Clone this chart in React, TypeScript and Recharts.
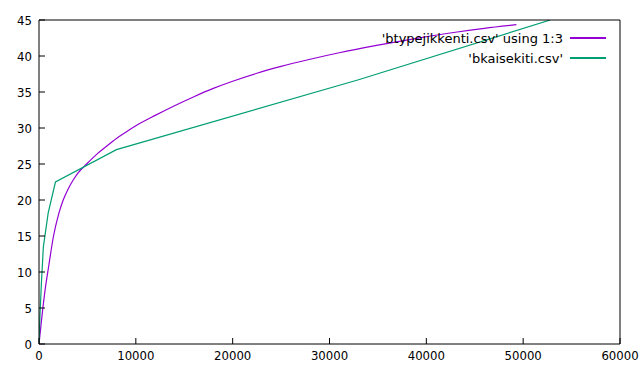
import { LineChart, Line, XAxis, YAxis } from "recharts";

// axis ticks
const xTicks = [0, 10000, 20000, 30000, 40000, 50000, 60000];
const yTicks = [0, 5, 10, 15, 20, 25, 30, 35, 40, 45];

// 'btypejikkenti.csv' using 1:3
const jikkentiX = [0, 300, 600, 1000, 1500, 2000, 2500, 3000, 3500, 4000, 5000, 6000, 7000, 8000, 9000, 10000, 12000, 14000, 16000, 18000, 20000, 22500, 25000, 28000, 31000, 35000, 39000, 43000, 46000, 49300];
const jikkentiY = [0, 3.8, 7.2, 10.8, 15, 17.9, 20, 21.5, 22.7, 23.7, 25.1, 26.4, 27.5, 28.55, 29.45, 30.3, 31.75, 33.1, 34.35, 35.5, 36.5, 37.6, 38.55, 39.55, 40.45, 41.5, 42.45, 43.3, 43.85, 44.35];

// 'bkaisekiti.csv'
const kaisekiX = [0, 100, 250, 450, 950, 1700, 8000, 33000, 52800];
const kaisekiY = [0, 4, 8.5, 13.5, 18.2, 22.5, 27, 36.7, 45];

const seriesNames = ["'btypejikkenti.csv' using 1:3", "'bkaisekiti.csv'"];
const seriesColors = ["#9400d3", "#009e73"];

const jikkentiData = jikkentiX.map((x, i) => ({ x, y: jikkentiY[i] }));
const kaisekiData = kaisekiX.map((x, i) => ({ x, y: kaisekiY[i] }));

const tickStyle = { fill: "#000", fontSize: 13, fontFamily: "'DejaVu Sans Condensed', 'DejaVu Sans', sans-serif" };
const frame = { stroke: "#000", strokeWidth: 1 };

export default function App() {
  return (
    <div style={{ position: "absolute", left: 0, top: 0, width: 640, height: 384, background: "#fff" }}>
      <LineChart width={640} height={384} margin={{ top: 19, right: 19, bottom: 0, left: 0 }}>
        <XAxis
          dataKey="x"
          type="number"
          domain={[0, 60000]}
          ticks={xTicks}
          allowDataOverflow
          height={40}
          tickSize={-6}
          tickMargin={13}
          tick={tickStyle}
          axisLine={frame}
          tickLine={frame}
          interval={0}
        />
        <XAxis
          xAxisId="top"
          orientation="top"
          type="number"
          domain={[0, 60000]}
          ticks={xTicks}
          height={1}
          tickSize={-6}
          tick={false}
          axisLine={frame}
          tickLine={frame}
          interval={0}
        />
        <YAxis
          type="number"
          domain={[0, 45]}
          ticks={yTicks}
          allowDataOverflow
          width={39}
          tickSize={-6}
          tickMargin={13}
          tick={tickStyle}
          axisLine={frame}
          tickLine={frame}
          interval={0}
        />
        <YAxis
          yAxisId="right"
          orientation="right"
          type="number"
          domain={[0, 45]}
          ticks={yTicks}
          width={1}
          tickSize={-6}
          tick={false}
          axisLine={frame}
          tickLine={frame}
          interval={0}
        />
        <Line
          data={jikkentiData}
          dataKey="y"
          type="monotone"
          stroke={seriesColors[0]}
          strokeWidth={1.2}
          dot={false}
          isAnimationActive={false}
        />
        <Line
          data={kaisekiData}
          dataKey="y"
          type="linear"
          stroke={seriesColors[1]}
          strokeWidth={1.2}
          dot={false}
          isAnimationActive={false}
        />
      </LineChart>
      <div style={{ position: "absolute", top: 28, right: 34, fontFamily: "'DejaVu Sans', sans-serif", fontSize: 13, color: "#000" }}>
        {seriesNames.map((name, i) => (
          <div key={name} style={{ display: "flex", justifyContent: "flex-end", alignItems: "center", height: 20 }}>
            <span style={{ whiteSpace: "pre" }}>{name}</span>
            <div style={{ width: 36, height: 1.2, background: seriesColors[i], marginLeft: 7 }} />
          </div>
        ))}
      </div>
    </div>
  );
}
